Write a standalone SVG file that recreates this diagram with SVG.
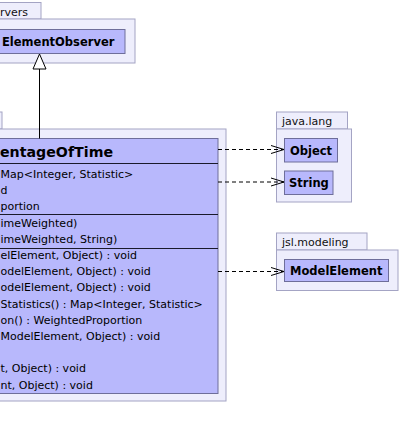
<svg xmlns="http://www.w3.org/2000/svg" width="402" height="439" viewBox="0 0 402 439">
<defs>
<style>
.pkg{fill:#eeeefc;stroke:#a4a4c4;stroke-width:1}
.cls{fill:#b8b8fc;stroke:#6e6e9a;stroke-width:1}
.sep{stroke:#1a1a2a;stroke-width:1}
.plabel{font-family:"DejaVu Sans",sans-serif;font-size:11px;fill:#111}
.cname{font-family:"DejaVu Sans",sans-serif;font-size:11.5px;font-weight:bold;fill:#000}
.title{font-family:"DejaVu Sans",sans-serif;font-size:14.2px;font-weight:bold;fill:#000}
.mem{font-family:"DejaVu Sans",sans-serif;font-size:11px;fill:#000}
.dep{fill:none;stroke:#000;stroke-width:1;stroke-dasharray:4,3}
.head{fill:none;stroke:#000;stroke-width:1}
</style>
</defs>
<rect x="0" y="0" width="402" height="439" fill="#ffffff"/>

<g id="pkg-observers">
<rect class="pkg" x="-10" y="2.5" width="51" height="16.5"/>
<rect class="pkg" x="-10" y="19" width="145" height="44"/>
<text class="plabel" x="0" y="15.5">rvers</text>
</g>

<g id="node-ElementObserver">
<rect class="cls" x="-10" y="29.5" width="135" height="24"/>
<text class="cname" x="2" y="46">ElementObserver</text>
</g>

<g id="pkg-main">
<rect class="pkg" x="-10" y="112" width="12" height="17"/>
<rect class="pkg" x="-10" y="129" width="236" height="272"/>
</g>

<g id="node-PercentageOfTime">
<rect class="cls" x="-10" y="138.5" width="228" height="255"/>
<text class="title" x="0" y="157">entageOfTime</text>
<line class="sep" x1="-10" y1="163.5" x2="218" y2="163.5"/>
<text class="mem" x="0.5" y="178">Map&lt;Integer, Statistic&gt;</text>
<text class="mem" x="0.5" y="194.2">d</text>
<text class="mem" x="0.5" y="210.4">portion</text>
<line class="sep" x1="-10" y1="214.5" x2="218" y2="214.5"/>
<text class="mem" x="0.5" y="226.7">imeWeighted)</text>
<text class="mem" x="0.5" y="243">imeWeighted, String)</text>
<line class="sep" x1="-10" y1="248.5" x2="218" y2="248.5"/>
<text class="mem" x="0.5" y="259">elElement, Object) : void</text>
<text class="mem" x="0.5" y="275.2">odelElement, Object) : void</text>
<text class="mem" x="0.5" y="291.4">odelElement, Object) : void</text>
<text class="mem" x="0.5" y="307.6">Statistics() : Map&lt;Integer, Statistic&gt;</text>
<text class="mem" x="0.5" y="323.8">on() : WeightedProportion</text>
<text class="mem" x="0.5" y="340">ModelElement, Object) : void</text>
<text class="mem" x="0.5" y="372.4">t, Object) : void</text>
<text class="mem" x="0.5" y="388.6">nt, Object) : void</text>
</g>

<g id="pkg-java-lang">
<rect class="pkg" x="276.5" y="112" width="71" height="17"/>
<rect class="pkg" x="276.5" y="129" width="75" height="73"/>
<text class="plabel" x="282" y="125">java.lang</text>
</g>

<g id="node-Object">
<rect class="cls" x="284.5" y="138.5" width="53" height="23.5"/>
<text class="cname" x="290" y="154.5">Object</text>
</g>

<g id="node-String">
<rect class="cls" x="284.5" y="171" width="48.5" height="23.5"/>
<text class="cname" x="289" y="187">String</text>
</g>

<g id="pkg-jsl-modeling">
<rect class="pkg" x="276.5" y="233" width="90.5" height="17"/>
<rect class="pkg" x="276.5" y="250" width="121.5" height="40.5"/>
<text class="plabel" x="282" y="246">jsl.modeling</text>
</g>

<g id="node-ModelElement">
<rect class="cls" x="284.5" y="259.5" width="104" height="22"/>
<text class="cname" x="290" y="275">ModelElement</text>
</g>

<g id="connectors">
<line x1="39.5" y1="69" x2="39.5" y2="138.5" stroke="#000" stroke-width="1"/>
<polygon points="39.5,54 33,69 46,69" fill="#ffffff" stroke="#000" stroke-width="1"/>
<line class="dep" x1="218" y1="149.5" x2="284" y2="149.5"/>
<polyline class="head" points="271,145.5 284,149.5 271,153.5"/>
<line class="dep" x1="218" y1="182" x2="284" y2="182"/>
<polyline class="head" points="271,178 284,182 271,186"/>
<line class="dep" x1="218" y1="271.5" x2="284" y2="271.5"/>
<polyline class="head" points="271,267.5 284,271.5 271,275.5"/>
</g>
</svg>
